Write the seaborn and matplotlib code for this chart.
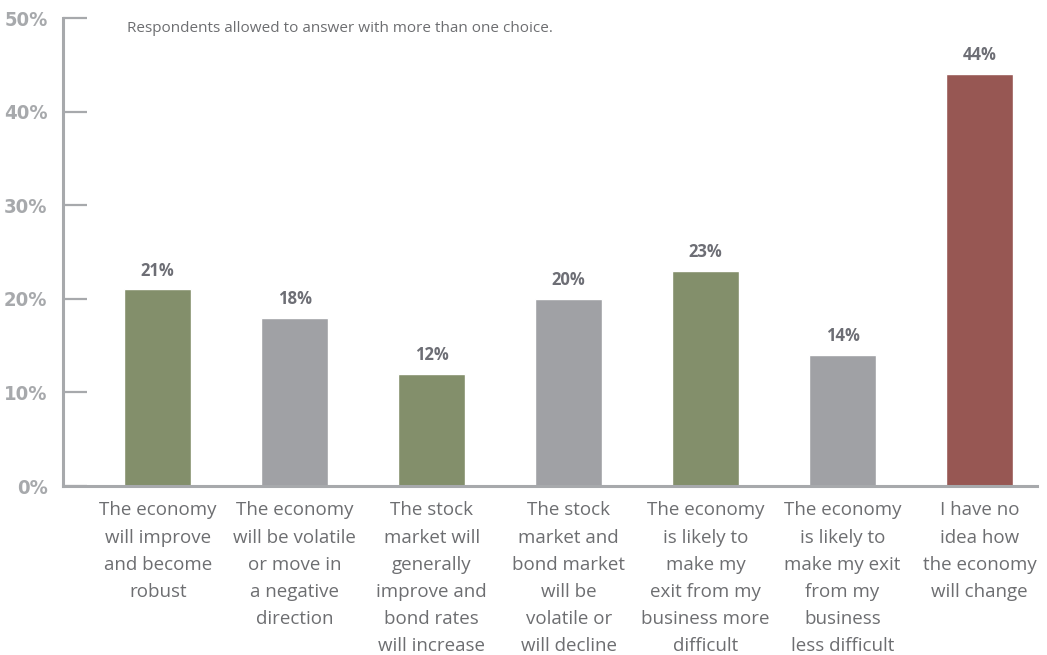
import matplotlib
matplotlib.use("Agg")
import matplotlib.pyplot as plt
import seaborn as sns
import pandas as pd

categories = [
    "The economy\nwill improve\nand become\nrobust",
    "The economy\nwill be volatile\nor move in\na negative\ndirection",
    "The stock\nmarket will\ngenerally\nimprove and\nbond rates\nwill increase",
    "The stock\nmarket and\nbond market\nwill be\nvolatile or\nwill decline",
    "The economy\nis likely to\nmake my\nexit from my\nbusiness more\ndifficult",
    "The economy\nis likely to\nmake my exit\nfrom my\nbusiness\nless difficult",
    "I have no\nidea how\nthe economy\nwill change",
]
values = [21, 18, 12, 20, 23, 14, 44]
bar_colors = ["#838f6b", "#a0a1a5", "#838f6b", "#a0a1a5", "#838f6b", "#a0a1a5", "#975753"]
yticks = [0, 10, 20, 30, 40, 50]
ytick_labels = ["0%", "10%", "20%", "30%", "40%", "50%"]
note = "Respondents allowed to answer with more than one choice."

sns.set_theme(style="white")
plt.rcParams["font.family"] = ["Open Sans", "DejaVu Sans"]

df = pd.DataFrame({"category": categories, "value": values})

fig = plt.figure(figsize=(10.47, 6.55), dpi=100)
ax = fig.add_axes([0.060, 0.258, 0.930, 0.7145])

sns.barplot(data=df, x="category", y="value", hue="category",
            palette=dict(zip(categories, bar_colors)), legend=False,
            width=0.49, saturation=1, ax=ax)

ax.set_xlim(-0.693, 6.416)
ax.set_ylim(0, 50)
ax.set_xlabel("")
ax.set_ylabel("")

axis_color = "#a7a9ac"
for s in ["top", "right"]:
    ax.spines[s].set_visible(False)
for s in ["left", "bottom"]:
    ax.spines[s].set_color(axis_color)
    ax.spines[s].set_linewidth(2.2)

ax.set_yticks(yticks)
ax.set_yticklabels(ytick_labels, fontfamily="DejaVu Sans", fontstretch="condensed",
                   fontweight="bold", fontsize=14.5, color=axis_color)
ax.tick_params(axis="y", direction="in", length=17, width=1.6,
               color=axis_color, pad=11, left=True)
ax.tick_params(axis="x", length=0, pad=11)
for lbl in ax.get_xticklabels():
    lbl.set_fontsize(13.5)
    lbl.set_color("#6d6e71")
    lbl.set_linespacing(1.66)
    lbl.set_va("top")

for cont in ax.containers:
    ax.bar_label(cont, labels=[f"{v:.0f}%" for v in cont.datavalues],
                 padding=7, fontsize=12, fontweight="bold", color="#6d6e75")

fig.text(127 / 1047, 1 - 29 / 655, note, fontsize=11,
         color="#6d6e71", va="center", ha="left")

fig.savefig("out.png", dpi=100)
